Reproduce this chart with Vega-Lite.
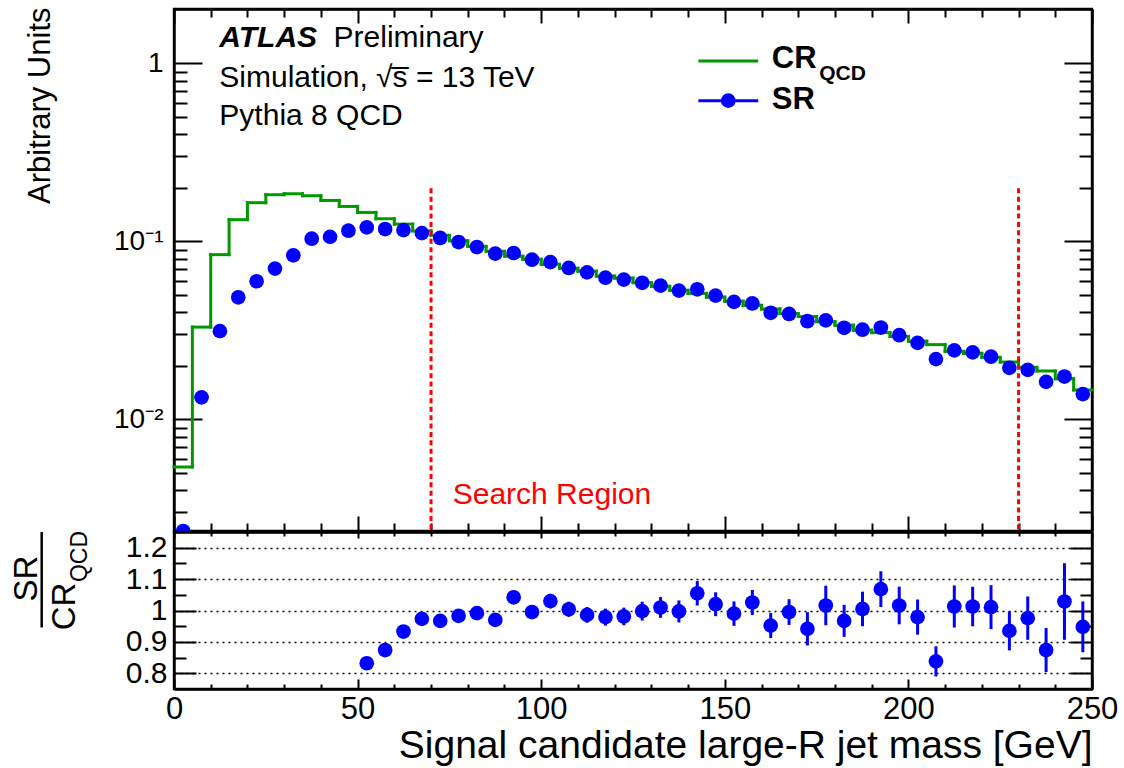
{
  "$schema": "https://vega.github.io/schema/vega-lite/v6.json",
  "background": "white",
  "padding": {"left": 9, "top": 5, "right": 5, "bottom": 5},
  "spacing": 1,
  "bounds": "flush",
  "config": {
    "font": "Liberation Sans",
    "view": {"stroke": "black", "strokeWidth": 2.4},
    "axis": {"domainColor": "black", "domainWidth": 2.4, "tickColor": "black", "tickWidth": 2, "labelColor": "black", "titleColor": "black", "titleFontWeight": "normal", "grid": false, "labelFlush": false, "labelOverlap": false, "labelBound": false}
  },
  "datasets": {
    "hist": [
      {"lo":0,"hi":5,"m":2.5,"cr":0.0054,"sr":0.00236,"ratio":null,"err":null},
      {"lo":5,"hi":10,"m":7.5,"cr":0.033,"sr":0.0133,"ratio":null,"err":null},
      {"lo":10,"hi":15,"m":12.5,"cr":0.0842,"sr":0.0313,"ratio":null,"err":null},
      {"lo":15,"hi":20,"m":17.5,"cr":0.1324,"sr":0.0485,"ratio":null,"err":null},
      {"lo":20,"hi":25,"m":22.5,"cr":0.1649,"sr":0.0597,"ratio":null,"err":null},
      {"lo":25,"hi":30,"m":27.5,"cr":0.1828,"sr":0.0703,"ratio":null,"err":null},
      {"lo":30,"hi":35,"m":32.5,"cr":0.1851,"sr":0.0834,"ratio":null,"err":null},
      {"lo":35,"hi":40,"m":37.5,"cr":0.1804,"sr":0.1035,"ratio":null,"err":null},
      {"lo":40,"hi":45,"m":42.5,"cr":0.1698,"sr":0.106,"ratio":null,"err":null},
      {"lo":45,"hi":50,"m":47.5,"cr":0.1571,"sr":0.1148,"ratio":null,"err":null},
      {"lo":50,"hi":55,"m":52.5,"cr":0.1454,"sr":0.1198,"ratio":0.832,"err":0.013},
      {"lo":55,"hi":60,"m":57.5,"cr":0.134,"sr":0.1173,"ratio":0.874,"err":0.014},
      {"lo":60,"hi":65,"m":62.5,"cr":0.125,"sr":0.1157,"ratio":0.933,"err":0.015},
      {"lo":65,"hi":70,"m":67.5,"cr":0.1145,"sr":0.1113,"ratio":0.9735,"err":0.016},
      {"lo":70,"hi":75,"m":72.5,"cr":0.1081,"sr":0.1045,"ratio":0.967,"err":0.017},
      {"lo":75,"hi":80,"m":77.5,"cr":0.1008,"sr":0.0991,"ratio":0.983,"err":0.018},
      {"lo":80,"hi":85,"m":82.5,"cr":0.0937,"sr":0.0929,"ratio":0.9915,"err":0.019},
      {"lo":85,"hi":90,"m":87.5,"cr":0.0879,"sr":0.0853,"ratio":0.970,"err":0.02},
      {"lo":90,"hi":95,"m":92.5,"cr":0.0825,"sr":0.086,"ratio":1.042,"err":0.021},
      {"lo":95,"hi":100,"m":97.5,"cr":0.0793,"sr":0.0789,"ratio":0.995,"err":0.022},
      {"lo":100,"hi":105,"m":102.5,"cr":0.0743,"sr":0.0765,"ratio":1.030,"err":0.023},
      {"lo":105,"hi":110,"m":107.5,"cr":0.0706,"sr":0.0709,"ratio":1.004,"err":0.024},
      {"lo":110,"hi":115,"m":112.5,"cr":0.068,"sr":0.067,"ratio":0.986,"err":0.025},
      {"lo":115,"hi":120,"m":117.5,"cr":0.0638,"sr":0.0625,"ratio":0.979,"err":0.027},
      {"lo":120,"hi":125,"m":122.5,"cr":0.0622,"sr":0.061,"ratio":0.981,"err":0.028},
      {"lo":125,"hi":130,"m":127.5,"cr":0.0586,"sr":0.0585,"ratio":0.998,"err":0.03},
      {"lo":130,"hi":135,"m":132.5,"cr":0.0559,"sr":0.0564,"ratio":1.0096,"err":0.033},
      {"lo":135,"hi":140,"m":137.5,"cr":0.0531,"sr":0.0529,"ratio":0.997,"err":0.035},
      {"lo":140,"hi":145,"m":142.5,"cr":0.051,"sr":0.0538,"ratio":1.055,"err":0.039},
      {"lo":145,"hi":150,"m":147.5,"cr":0.0486,"sr":0.0496,"ratio":1.020,"err":0.038},
      {"lo":150,"hi":155,"m":152.5,"cr":0.0461,"sr":0.0457,"ratio":0.990,"err":0.039},
      {"lo":155,"hi":160,"m":157.5,"cr":0.0437,"sr":0.0448,"ratio":1.0255,"err":0.04},
      {"lo":160,"hi":165,"m":162.5,"cr":0.0417,"sr":0.0397,"ratio":0.952,"err":0.04},
      {"lo":165,"hi":170,"m":167.5,"cr":0.0393,"sr":0.0391,"ratio":0.995,"err":0.041},
      {"lo":170,"hi":175,"m":172.5,"cr":0.0378,"sr":0.0356,"ratio":0.9416,"err":0.053},
      {"lo":175,"hi":180,"m":177.5,"cr":0.0354,"sr":0.036,"ratio":1.016,"err":0.063},
      {"lo":180,"hi":185,"m":182.5,"cr":0.0338,"sr":0.0327,"ratio":0.967,"err":0.051},
      {"lo":185,"hi":190,"m":187.5,"cr":0.0317,"sr":0.0319,"ratio":1.005,"err":0.055},
      {"lo":190,"hi":195,"m":192.5,"cr":0.0307,"sr":0.0328,"ratio":1.068,"err":0.057},
      {"lo":195,"hi":200,"m":197.5,"cr":0.0292,"sr":0.0297,"ratio":1.016,"err":0.06},
      {"lo":200,"hi":205,"m":202.5,"cr":0.0275,"sr":0.0269,"ratio":0.979,"err":0.056},
      {"lo":205,"hi":210,"m":207.5,"cr":0.0263,"sr":0.0218,"ratio":0.838,"err":0.048},
      {"lo":210,"hi":215,"m":212.5,"cr":0.0241,"sr":0.0244,"ratio":1.0127,"err":0.067},
      {"lo":215,"hi":220,"m":217.5,"cr":0.0235,"sr":0.0238,"ratio":1.0127,"err":0.063},
      {"lo":220,"hi":225,"m":222.5,"cr":0.0223,"sr":0.0225,"ratio":1.0106,"err":0.07},
      {"lo":225,"hi":230,"m":227.5,"cr":0.021,"sr":0.01947,"ratio":0.935,"err":0.062},
      {"lo":230,"hi":235,"m":232.5,"cr":0.0196,"sr":0.01897,"ratio":0.9756,"err":0.069},
      {"lo":235,"hi":240,"m":237.5,"cr":0.0187,"sr":0.01625,"ratio":0.874,"err":0.07},
      {"lo":240,"hi":245,"m":242.5,"cr":0.0169,"sr":0.0174,"ratio":1.0287,"err":0.122},
      {"lo":245,"hi":250,"m":247.5,"cr":0.01463,"sr":0.01387,"ratio":0.948,"err":0.081}
    ],
    "edges": [{"edge": 70}, {"edge": 230}]
  },
  "vconcat": [
    {
      "width": 918,
      "height": 522,
      "resolve": {"axis": {"x": "independent", "y": "independent"}},
      "layer": [
        {
          "data": {"name": "hist"},
          "mark": {"type": "rule", "color": "#009900", "strokeWidth": 3, "strokeCap": "square"},
          "encoding": {
            "x": {"field": "lo", "type": "quantitative",
              "scale": {"domain": [0, 250], "nice": false, "zero": false},
              "axis": {"orient": "bottom", "values": [0,10,20,30,40,50,60,70,80,90,100,110,120,130,140,150,160,170,180,190,200,210,220,230,240,250], "labels": false, "title": null,
                "tickSize": {"condition": {"test": "datum.value % 50 === 0", "value": -15}, "value": -8}}},
            "x2": {"field": "hi"},
            "y": {"field": "cr", "type": "quantitative",
              "scale": {"type": "log", "domain": [0.00236, 2.02], "nice": false},
              "axis": {"orient": "left", "values": [0.003,0.004,0.005,0.006,0.007,0.008,0.009,0.01,0.02,0.03,0.04,0.05,0.06,0.07,0.08,0.09,0.1,0.2,0.3,0.4,0.5,0.6,0.7,0.8,0.9,1],
                "labelExpr": "datum.value == 1 ? '1' : datum.value == 0.1 ? '10⁻¹' : datum.value == 0.01 ? '10⁻²' : ''",
                "labelFontSize": 28, "labelPadding": 39,
                "tickSize": {"condition": {"test": "datum.value == 1 || datum.value == 0.1 || datum.value == 0.01", "value": -28}, "value": -13},
                "title": "Arbitrary Units", "titleFontSize": 31, "titleAngle": -90, "titleAlign": "right", "titleBaseline": "middle", "titleX": -134, "titleY": -2}}
          }
        },
        {
          "data": {"name": "hist"},
          "transform": [
            {"window": [{"op": "lead", "field": "cr", "as": "next"}], "sort": [{"field": "lo", "order": "ascending"}]},
            {"filter": "datum.next != null"}
          ],
          "mark": {"type": "rule", "color": "#009900", "strokeWidth": 3, "strokeCap": "square"},
          "encoding": {
            "x": {"field": "hi", "type": "quantitative", "axis": null},
            "y": {"field": "cr", "type": "quantitative", "axis": null},
            "y2": {"field": "next"}
          }
        },
        {
          "data": {"name": "hist"},
          "mark": {"type": "circle", "color": "#0000ff", "opacity": 1, "size": 216, "clip": true},
          "encoding": {
            "x": {"field": "m", "type": "quantitative",
              "axis": {"orient": "top", "values": [0,10,20,30,40,50,60,70,80,90,100,110,120,130,140,150,160,170,180,190,200,210,220,230,240,250], "labels": false, "title": null,
                "tickSize": {"condition": {"test": "datum.value % 50 === 0", "value": -14}, "value": -8}}},
            "y": {"field": "sr", "type": "quantitative",
              "axis": {"orient": "right", "values": [0.003,0.004,0.005,0.006,0.007,0.008,0.009,0.01,0.02,0.03,0.04,0.05,0.06,0.07,0.08,0.09,0.1,0.2,0.3,0.4,0.5,0.6,0.7,0.8,0.9,1], "labels": false, "title": null,
                "tickSize": {"condition": {"test": "datum.value == 1 || datum.value == 0.1 || datum.value == 0.01", "value": -28}, "value": -13}}}
          }
        },
        {
          "data": {"name": "edges"},
          "mark": {"type": "rule", "color": "#ff0000", "strokeWidth": 3, "strokeDash": [5, 3.4]},
          "encoding": {
            "x": {"field": "edge", "type": "quantitative", "axis": null},
            "y": {"datum": 0.1985, "type": "quantitative", "axis": null},
            "y2": {"datum": 0.00236}
          }
        },
        {
          "data": {"values": [{"t": "ATLAS"}]},
          "mark": {"type": "text", "fontSize": 30, "fontWeight": "bold", "fontStyle": "italic", "align": "left", "baseline": "alphabetic", "color": "black"},
          "encoding": {
            "x": {"datum": 12.35, "type": "quantitative", "axis": null},
            "y": {"datum": 1.241, "type": "quantitative", "axis": null},
            "text": {"field": "t"}
          }
        },
        {
          "data": {"values": [{"t": "Preliminary"}]},
          "mark": {"type": "text", "fontSize": 30, "align": "left", "baseline": "alphabetic", "color": "black"},
          "encoding": {
            "x": {"datum": 43.45, "type": "quantitative", "axis": null},
            "y": {"datum": 1.241, "type": "quantitative", "axis": null},
            "text": {"field": "t"}
          }
        },
        {
          "data": {"values": [{"t": "Simulation, √s\u0305 = 13 TeV"}]},
          "mark": {"type": "text", "fontSize": 30, "align": "left", "baseline": "alphabetic", "color": "black"},
          "encoding": {
            "x": {"datum": 12.35, "type": "quantitative", "axis": null},
            "y": {"datum": 0.740, "type": "quantitative", "axis": null},
            "text": {"field": "t"}
          }
        },
        {
          "data": {"values": [{"t": "Pythia 8 QCD"}]},
          "mark": {"type": "text", "fontSize": 30, "align": "left", "baseline": "alphabetic", "color": "black"},
          "encoding": {
            "x": {"datum": 12.35, "type": "quantitative", "axis": null},
            "y": {"datum": 0.4507, "type": "quantitative", "axis": null},
            "text": {"field": "t"}
          }
        },
        {
          "data": {"values": [{"t": "Search Region"}]},
          "mark": {"type": "text", "fontSize": 30, "align": "left", "baseline": "alphabetic", "color": "#ff0000"},
          "encoding": {
            "x": {"datum": 75.9, "type": "quantitative", "axis": null},
            "y": {"datum": 0.003327, "type": "quantitative", "axis": null},
            "text": {"field": "t"}
          }
        },
        {
          "data": {"values": [{"s": "CR_QCD"}]},
          "mark": {"type": "rule", "color": "#009900", "strokeWidth": 3},
          "encoding": {
            "x": {"datum": 142.8, "type": "quantitative", "axis": null},
            "x2": {"datum": 159.1},
            "y": {"datum": 1.0316, "type": "quantitative", "axis": null}
          }
        },
        {
          "data": {"values": [{"s": "SR"}]},
          "mark": {"type": "rule", "color": "#0000ff", "strokeWidth": 3},
          "encoding": {
            "x": {"datum": 142.8, "type": "quantitative", "axis": null},
            "x2": {"datum": 159.1},
            "y": {"datum": 0.6172, "type": "quantitative", "axis": null}
          }
        },
        {
          "data": {"values": [{"s": "SR"}]},
          "mark": {"type": "circle", "color": "#0000ff", "opacity": 1, "size": 216},
          "encoding": {
            "x": {"datum": 150.95, "type": "quantitative", "axis": null},
            "y": {"datum": 0.6172, "type": "quantitative", "axis": null}
          }
        },
        {
          "data": {"values": [{"t": "CR"}]},
          "mark": {"type": "text", "fontSize": 31, "fontWeight": "bold", "align": "left", "baseline": "alphabetic", "color": "black"},
          "encoding": {
            "x": {"datum": 162.8, "type": "quantitative", "axis": null},
            "y": {"datum": 0.937, "type": "quantitative", "axis": null},
            "text": {"field": "t"}
          }
        },
        {
          "data": {"values": [{"t": "QCD"}]},
          "mark": {"type": "text", "fontSize": 21, "fontWeight": "bold", "align": "left", "baseline": "alphabetic", "color": "black"},
          "encoding": {
            "x": {"datum": 175.7, "type": "quantitative", "axis": null},
            "y": {"datum": 0.8067, "type": "quantitative", "axis": null},
            "text": {"field": "t"}
          }
        },
        {
          "data": {"values": [{"t": "SR"}]},
          "mark": {"type": "text", "fontSize": 31, "fontWeight": "bold", "align": "left", "baseline": "alphabetic", "color": "black"},
          "encoding": {
            "x": {"datum": 162.8, "type": "quantitative", "axis": null},
            "y": {"datum": 0.5515, "type": "quantitative", "axis": null},
            "text": {"field": "t"}
          }
        }
      ]
    },
    {
      "width": 918,
      "height": 157,
      "resolve": {"axis": {"x": "independent", "y": "independent"}},
      "layer": [
        {
          "data": {"name": "hist"},
          "transform": [{"filter": "datum.ratio != null"}],
          "mark": {"type": "circle", "color": "#0000ff", "opacity": 1, "size": 216},
          "encoding": {
            "x": {"field": "m", "type": "quantitative",
              "scale": {"domain": [0, 250], "nice": false, "zero": false},
              "axis": {"orient": "bottom", "values": [0,10,20,30,40,50,60,70,80,90,100,110,120,130,140,150,160,170,180,190,200,210,220,230,240,250],
                "labelExpr": "datum.value % 50 === 0 ? datum.label : ''", "labelFontSize": 31, "labelPadding": 15,
                "tickSize": {"condition": {"test": "datum.value % 50 === 0", "value": -10}, "value": -5},
                "title": "Signal candidate large-R jet mass [GeV]", "titleFontSize": 39, "titleAlign": "right", "titleBaseline": "alphabetic", "titleX": 918, "titleY": 68}},
            "y": {"field": "ratio", "type": "quantitative",
              "scale": {"domain": [0.75, 1.25], "nice": false, "zero": false},
              "axis": {"orient": "left", "values": [0.8,0.85,0.9,0.95,1,1.05,1.1,1.15,1.2],
                "labelExpr": "abs(datum.value*10 - round(datum.value*10)) < 0.01 ? '' + round(datum.value*10)/10 : ''",
                "labelFontSize": 30, "labelPadding": 29,
                "tickSize": {"condition": {"test": "abs(datum.value*10 - round(datum.value*10)) < 0.01", "value": -22}, "value": -12},
                "grid": true, "gridColor": "black", "gridDash": [2, 4], "gridWidth": 1.5,
                "gridOpacity": {"condition": {"test": "abs(datum.value*10 - round(datum.value*10)) < 0.01", "value": 1}, "value": 0},
                "title": null}}
          }
        },
        {
          "data": {"name": "hist"},
          "transform": [{"filter": "datum.ratio != null"}],
          "mark": {"type": "errorbar", "color": "#0000ff", "thickness": 3},
          "encoding": {
            "x": {"field": "m", "type": "quantitative",
              "axis": {"orient": "top", "values": [0,10,20,30,40,50,60,70,80,90,100,110,120,130,140,150,160,170,180,190,200,210,220,230,240,250], "labels": false, "title": null,
                "tickSize": {"condition": {"test": "datum.value % 50 === 0", "value": -6}, "value": -4}}},
            "y": {"field": "ratio", "type": "quantitative",
              "axis": {"orient": "right", "values": [0.8,0.85,0.9,0.95,1,1.05,1.1,1.15,1.2], "labels": false, "title": null,
                "tickSize": {"condition": {"test": "abs(datum.value*10 - round(datum.value*10)) < 0.01", "value": -22}, "value": -12}}},
            "yError": {"field": "err"}
          }
        },
        {
          "data": {"values": [{"t": "SR"}]},
          "mark": {"type": "text", "fontSize": 33, "angle": 270, "align": "center", "baseline": "alphabetic", "color": "black"},
          "encoding": {
            "x": {"datum": -37.4, "type": "quantitative", "axis": null},
            "y": {"datum": 1.102, "type": "quantitative", "axis": null},
            "text": {"field": "t"}
          }
        },
        {
          "data": {"values": [{"t": "bar"}]},
          "mark": {"type": "rule", "color": "black", "strokeWidth": 2.5},
          "encoding": {
            "x": {"datum": -36.03, "type": "quantitative", "axis": null},
            "y": {"datum": 1.25, "type": "quantitative", "axis": null},
            "y2": {"datum": 0.946}
          }
        },
        {
          "data": {"values": [{"t": "CR"}]},
          "mark": {"type": "text", "fontSize": 33, "angle": 270, "align": "center", "baseline": "alphabetic", "color": "black"},
          "encoding": {
            "x": {"datum": -26.96, "type": "quantitative", "axis": null},
            "y": {"datum": 1.0127, "type": "quantitative", "axis": null},
            "text": {"field": "t"}
          }
        },
        {
          "data": {"values": [{"t": "QCD"}]},
          "mark": {"type": "text", "fontSize": 23, "angle": 270, "align": "center", "baseline": "alphabetic", "color": "black"},
          "encoding": {
            "x": {"datum": -23.61, "type": "quantitative", "axis": null},
            "y": {"datum": 1.172, "type": "quantitative", "axis": null},
            "text": {"field": "t"}
          }
        }
      ]
    }
  ]
}
